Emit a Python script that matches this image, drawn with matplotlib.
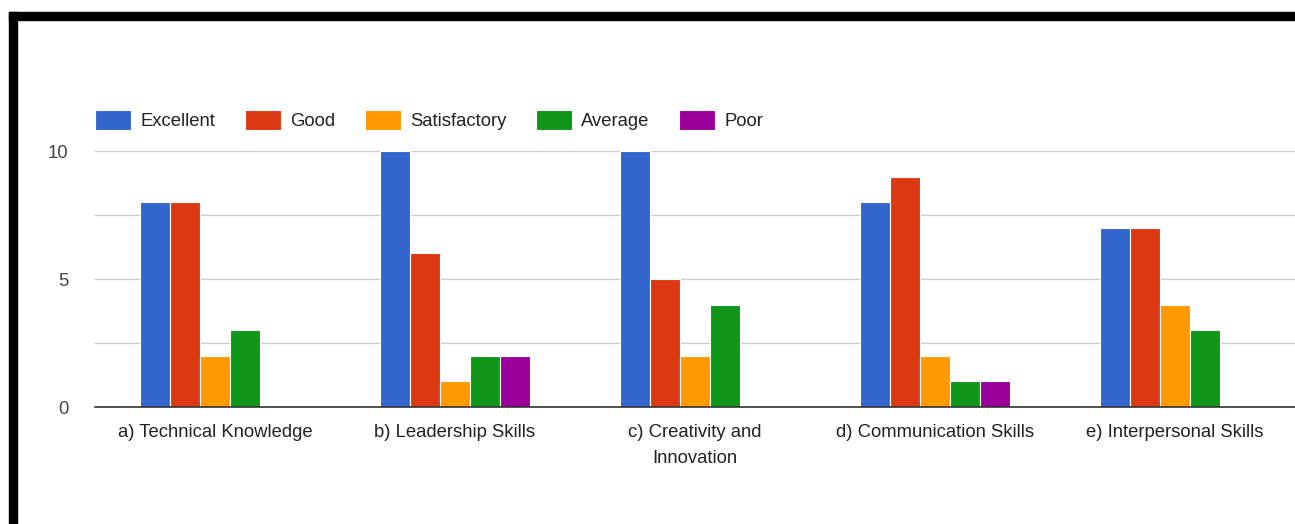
import numpy as np
import matplotlib
matplotlib.use('Agg')
import matplotlib.pyplot as plt
from matplotlib.patches import Rectangle

plt.rcParams['font.family'] = ['Liberation Sans', 'DejaVu Sans']

# data
categories = ['a) Technical Knowledge', 'b) Leadership Skills',
              'c) Creativity and\nInnovation', 'd) Communication Skills',
              'e) Interpersonal Skills']
series_names = ['Excellent', 'Good', 'Satisfactory', 'Average', 'Poor']
excellent = [8, 10, 10, 8, 7]
good = [8, 6, 5, 9, 7]
satisfactory = [2, 1, 2, 2, 4]
average = [3, 2, 4, 1, 3]
poor = [0, 2, 0, 1, 0]
y_ticks = [0, 5, 10]

colors = ['#3366cc', '#dc3912', '#ff9900', '#109618', '#990099']
series = [excellent, good, satisfactory, average, poor]

fig = plt.figure(figsize=(12.95, 5.24), dpi=100)
ax = fig.add_axes([95 / 1295, 117 / 524, 1200 / 1295, 256 / 524])

x = np.arange(len(categories))
bw = 0.125
for i, (name, vals, c) in enumerate(zip(series_names, series, colors)):
    ax.bar(x + (i - 2) * bw, vals, width=bw, color=c, edgecolor='white',
           linewidth=0.8, label=name, zorder=3)

ax.set_xlim(-0.5, len(categories) - 0.5)
ax.set_ylim(0, 10)
ax.set_yticks(y_ticks)
ax.set_yticks([2.5, 7.5], minor=True)
ax.grid(axis='y', which='both', color='#cccccc', linewidth=1, zorder=0)
ax.set_xticks(x)
ax.set_xticklabels(categories, fontsize=13.3, color='#222222', linespacing=1.7)
ax.tick_params(axis='x', length=0, pad=12)
ax.tick_params(axis='y', which='both', length=0, pad=19, labelsize=13.3,
               labelcolor='#444444')
for s in ['top', 'right', 'left']:
    ax.spines[s].set_visible(False)
ax.spines['bottom'].set_color('#333333')
ax.spines['bottom'].set_linewidth(1.2)
ax.spines['bottom'].set_zorder(4)

ax.legend(loc='center left', bbox_to_anchor=(0, 1.121), ncol=5, frameon=False,
          fontsize=13.3, handlelength=1.95, handleheight=1.3, handletextpad=0.5,
          columnspacing=1.6, borderpad=0, borderaxespad=0, labelcolor='#222222')

# black frame at top and left
fig.patches.append(Rectangle((9 / 1295, 0), 8 / 1295, (524 - 12) / 524,
                             transform=fig.transFigure, color='black'))
fig.patches.append(Rectangle((9 / 1295, (524 - 20) / 524), 1 - 9 / 1295, 8 / 524,
                             transform=fig.transFigure, color='black'))

fig.savefig('out.png', dpi=100)
